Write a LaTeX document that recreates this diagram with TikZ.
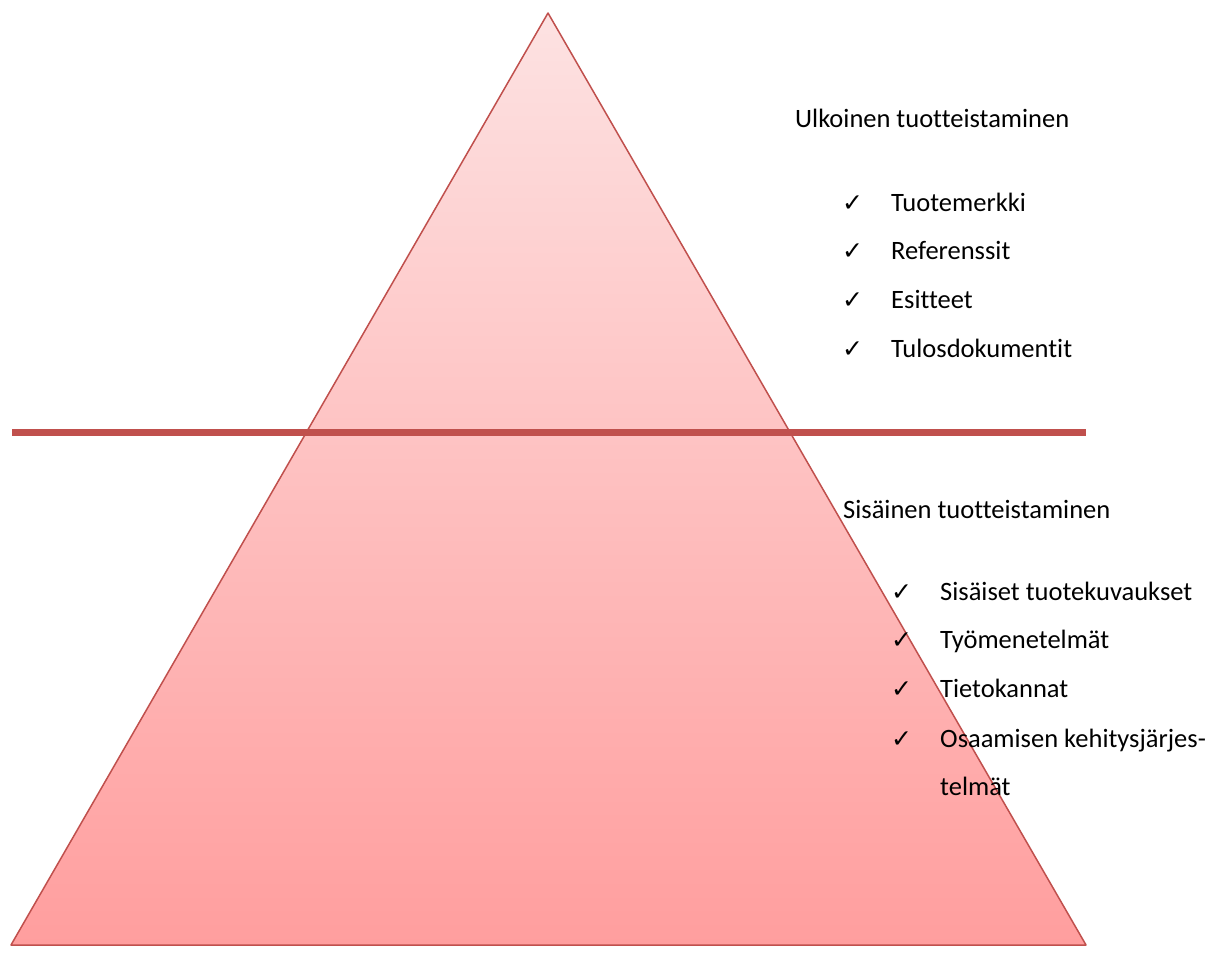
\documentclass[tikz,border=0pt]{standalone}
\usepackage{fontspec}
\setmainfont{Carlito}[Ligatures={NoCommon}]
\newfontfamily\tickfont{DejaVu Sans}
\usepackage{tikz}
\usetikzlibrary{positioning}
\definecolor{pyrline}{HTML}{C0504D}
\definecolor{pyrtop}{HTML}{FDE2E2}
\definecolor{pyrbottom}{HTML}{FF9E9E}

\begin{document}
\begin{tikzpicture}[
    x=1pt, y=-1pt,
    heading/.style={anchor=base west, inner sep=0pt, font=\fontsize{26.5}{31}\selectfont},
    item/.style={anchor=base west, inner sep=0pt, font=\fontsize{26.5}{31}\selectfont},
    tick/.style={anchor=base west, inner sep=0pt, font=\tickfont\fontsize{25}{29}\selectfont},
]
\useasboundingbox (0,0) rectangle (1219,958);

% Pyramid
\shade[top color=pyrtop, bottom color=pyrbottom] (548,13) -- (1086,945) -- (11,945) -- cycle;
\draw[pyrline, line width=1.5pt, line join=round] (548,13) -- (1086,945) -- (11,945) -- cycle;

% Divider
\draw[pyrline, line width=7pt] (12,432.5) -- (1086,432.5);

% Upper part
\node[heading] (ext) at (795,128) {Ulkoinen tuotteistaminen};
\node[tick] (c1) at (842,211) {✓};
\node[item] (e1) at (891,211) {Tuotemerkki};
\node[tick] (c2) at (842,259) {✓};
\node[item] (e2) at (891,259) {Referenssit};
\node[tick] (c3) at (842,308) {✓};
\node[item] (e3) at (891,308) {Esitteet};
\node[tick] (c4) at (842,357) {✓};
\node[item] (e4) at (891,357) {Tulosdokumentit};

% Lower part
\node[heading] (int) at (843,518) {Sisäinen tuotteistaminen};
\node[tick] (d1) at (891,600) {✓};
\node[item] (i1) at (940,600) {Sisäiset tuotekuvaukset};
\node[tick] (d2) at (891,648) {✓};
\node[item] (i2) at (940,648) {Työmenetelmät};
\node[tick] (d3) at (891,697) {✓};
\node[item] (i3) at (940,697) {Tietokannat};
\node[tick] (d4) at (891,747) {✓};
\node[item] (i4) at (940,747) {Osaamisen kehitysjärjes-};
\node[item] (i5) at (940,795) {telmät};

\end{tikzpicture}
\end{document}
